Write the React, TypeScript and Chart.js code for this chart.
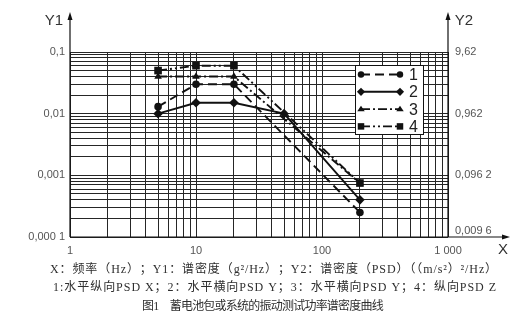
import React, { useEffect, useRef } from 'react';
import { Chart, registerables } from 'chart.js';

Chart.register(...registerables);

// PSD breakpoints per curve: frequency (Hz) and spectral density (g²/Hz)
const freqS1 = [5, 10, 20, 200];
const psdS1 = [0.013, 0.03, 0.03, 0.00025];
const freqS2 = [5, 10, 20, 50, 200];
const psdS2 = [0.01, 0.015, 0.015, 0.01, 0.0004];
const freqS3 = [5, 10, 20, 200];
const psdS3 = [0.04, 0.04, 0.04, 0.00075];
const freqS4 = [5, 10, 20, 200];
const psdS4 = [0.05, 0.06, 0.06, 0.00075];

const seriesNames = ['1', '2', '3', '4'];

const xTickValues = [1, 10, 100, 1000];
const xTickLabels = ['1', '10', '100', '1 000'];
const y1TickValues = [0.1, 0.01, 0.001, 0.0001];
const y1TickLabels = ['0,1', '0,01', '0,001', '0,000 1'];
// Right axis: (m/s²)²/Hz = g²/Hz × 9.81², same decades as the left axis
const y2TickLabels = ['9,62', '0,962', '0,096 2', '0,009 6'];

const captionLines = [
  'X：频率（Hz）；Y1：谱密度（g²/Hz）；Y2：谱密度（PSD）（（m/s²）²/Hz）',
  '1:水平纵向PSD X；2：水平横向PSD Y；3：水平横向PSD Y；4：纵向PSD Z',
  '图1　蓄电池包或系统的振动测试功率谱密度曲线',
];

const pointStyles = ['circle', 'rectRot', 'triangle', 'rect'] as const;
const pointRadii = [3.8, 4.8, 4.4, 5.4];
const dashes: number[][] = [[9, 5], [], [9, 3, 2, 3], [9, 3, 2, 3, 2, 3]];

const INK = '#111';
const GRID = '#262626';
const LABEL = '#555';

// 1..9 × each decade between lo and hi, used as grid positions
function logGrid(lo: number, hi: number): number[] {
  const out: number[] = [];
  for (let d = lo; d < hi * 0.999; d *= 10) {
    for (let m = 1; m <= 9; m++) out.push(+(d * m).toPrecision(6));
  }
  out.push(hi);
  return out;
}

function drawMarker(ctx: CanvasRenderingContext2D, style: string, x: number, y: number, r: number) {
  ctx.beginPath();
  if (style === 'circle') {
    ctx.arc(x, y, r, 0, Math.PI * 2);
  } else if (style === 'rectRot') {
    ctx.moveTo(x, y - r);
    ctx.lineTo(x + r, y);
    ctx.lineTo(x, y + r);
    ctx.lineTo(x - r, y);
    ctx.closePath();
  } else if (style === 'triangle') {
    const h = r * 1.5;
    ctx.moveTo(x, y - h * 0.6);
    ctx.lineTo(x + r, y + h * 0.4);
    ctx.lineTo(x - r, y + h * 0.4);
    ctx.closePath();
  } else {
    const s = r * Math.SQRT1_2;
    ctx.rect(x - s, y - s, 2 * s, 2 * s);
  }
  ctx.fill();
}

function fitText(ctx: CanvasRenderingContext2D, text: string, left: number, right: number, y: number) {
  const c = ctx as any;
  c.letterSpacing = '0px';
  const w = ctx.measureText(text).width;
  const n = Array.from(text).length;
  const sp = (right - left - w) / n;
  c.letterSpacing = `${sp}px`;
  ctx.textAlign = 'left';
  ctx.fillText(text, left, y);
  c.letterSpacing = '0px';
}

const decorations = {
  id: 'decorations',
  afterDraw(chart: any) {
    const { ctx, chartArea, scales } = chart;
    const { left, right, bottom } = chartArea;
    const xs = scales.x;
    const ys = scales.y;
    ctx.save();

    // axis lines with arrows
    ctx.strokeStyle = INK;
    ctx.fillStyle = INK;
    ctx.lineWidth = 1.2;
    ctx.setLineDash([]);
    ctx.beginPath();
    ctx.moveTo(left, bottom);
    ctx.lineTo(left, 16);
    ctx.moveTo(right, bottom);
    ctx.lineTo(right, 16);
    ctx.moveTo(left, bottom);
    ctx.lineTo(506, bottom);
    ctx.stroke();
    const arrowUp = (x: number) => {
      ctx.beginPath();
      ctx.moveTo(x, 12);
      ctx.lineTo(x + 2.5, 20);
      ctx.lineTo(x - 2.5, 20);
      ctx.closePath();
      ctx.fill();
    };
    arrowUp(left);
    arrowUp(right);
    ctx.beginPath();
    ctx.moveTo(510, bottom);
    ctx.lineTo(502, bottom - 2.5);
    ctx.lineTo(502, bottom + 2.5);
    ctx.closePath();
    ctx.fill();

    // tick labels
    ctx.font = '11px "Liberation Sans", Arial, sans-serif';
    ctx.fillStyle = LABEL;
    ctx.textBaseline = 'middle';
    ctx.textAlign = 'right';
    y1TickValues.forEach((v, i) => {
      ctx.fillText(y1TickLabels[i], left - 5, ys.getPixelForValue(v));
    });
    ctx.textAlign = 'left';
    y1TickValues.forEach((v, i) => {
      const yy = ys.getPixelForValue(v) - (i === y1TickValues.length - 1 ? 6 : 0);
      ctx.fillText(y2TickLabels[i], right + 7, yy);
    });
    ctx.textAlign = 'center';
    xTickValues.forEach((v, i) => {
      ctx.fillText(xTickLabels[i], xs.getPixelForValue(v), bottom + 14);
    });

    // axis titles
    ctx.fillStyle = '#333';
    ctx.font = '15px "Liberation Sans", Arial, sans-serif';
    ctx.textAlign = 'center';
    ctx.fillText('Y1', 54, 21);
    ctx.fillText('Y2', 464, 21);
    ctx.fillText('X', 503, 250);

    // legend
    const lx = 355, ly = 65, lw = 68, lh = 69;
    ctx.fillStyle = '#fff';
    ctx.fillRect(lx, ly, lw, lh);
    ctx.strokeStyle = INK;
    ctx.lineWidth = 1;
    ctx.strokeRect(lx + 0.5, ly + 0.5, lw, lh);
    seriesNames.forEach((name, i) => {
      const yy = ly + 9.5 + i * 17.3;
      const x0 = 361, x1 = 400;
      ctx.strokeStyle = INK;
      ctx.lineWidth = 1.9;
      ctx.setLineDash(dashes[i]);
      ctx.beginPath();
      ctx.moveTo(x0, yy);
      ctx.lineTo(x1, yy);
      ctx.stroke();
      ctx.setLineDash([]);
      ctx.fillStyle = INK;
      drawMarker(ctx, pointStyles[i], x0, yy, pointRadii[i] * 0.85);
      drawMarker(ctx, pointStyles[i], x1, yy, pointRadii[i] * 0.85);
      ctx.fillStyle = '#222';
      ctx.font = '16px "Liberation Sans", Arial, sans-serif';
      ctx.textAlign = 'left';
      ctx.fillText(name, 409, yy + 1);
    });

    // caption
    ctx.fillStyle = '#2e2e2e';
    ctx.font = '12px "Liberation Serif", "Noto Sans CJK SC", serif';
    ctx.textBaseline = 'middle';
    fitText(ctx, captionLines[0], 50, 498, 270);
    fitText(ctx, captionLines[1], 53, 497, 288);
    fitText(ctx, captionLines[2], 142, 383, 307);

    ctx.restore();
  },
};

export default function App() {
  const ref = useRef<HTMLCanvasElement | null>(null);

  useEffect(() => {
    if (!ref.current) return;
    const mk = (fs: number[], ps: number[]) => fs.map((f, i) => ({ x: f, y: ps[i] }));
    const series = [mk(freqS1, psdS1), mk(freqS2, psdS2), mk(freqS3, psdS3), mk(freqS4, psdS4)];

    const chart = new Chart(ref.current, {
      type: 'line',
      data: {
        datasets: series.map((d, i) => ({
          label: seriesNames[i],
          data: d,
          borderColor: INK,
          backgroundColor: INK,
          borderWidth: 1.9,
          borderDash: dashes[i],
          pointStyle: pointStyles[i],
          pointRadius: pointRadii[i],
          pointBackgroundColor: INK,
          pointBorderColor: INK,
          pointBorderWidth: 0,
          tension: 0,
          fill: false,
          order: 4 - i,
        })),
      },
      options: {
        responsive: false,
        animation: false,
        devicePixelRatio: 1,
        layout: { padding: { left: 70, right: 72, top: 52, bottom: 90 } },
        plugins: { legend: { display: false }, tooltip: { enabled: false }, title: { display: false } },
        scales: {
          x: {
            type: 'logarithmic',
            min: 1,
            max: 1000,
            ticks: { display: false },
            grid: { color: GRID, lineWidth: 1, drawTicks: false },
            border: { display: false },
            afterBuildTicks: (s: any) => {
              s.ticks = logGrid(1, 1000).map((v) => ({ value: v }));
            },
            afterFit: (s: any) => {
              s.height = 0;
            },
          },
          y: {
            type: 'logarithmic',
            min: 0.0001,
            max: 0.1,
            ticks: { display: false },
            grid: { color: GRID, lineWidth: 1, drawTicks: false },
            border: { display: false },
            afterBuildTicks: (s: any) => {
              s.ticks = logGrid(0.0001, 0.1).map((v) => ({ value: v }));
            },
            afterFit: (s: any) => {
              s.width = 0;
            },
          },
        },
      },
      plugins: [decorations],
    } as any);

    return () => chart.destroy();
  }, []);

  return (
    <div style={{ position: 'absolute', left: 0, top: 0, width: 520, height: 327, background: '#fff' }}>
      <canvas ref={ref} width={520} height={327} style={{ width: 520, height: 327, display: 'block' }} />
    </div>
  );
}
